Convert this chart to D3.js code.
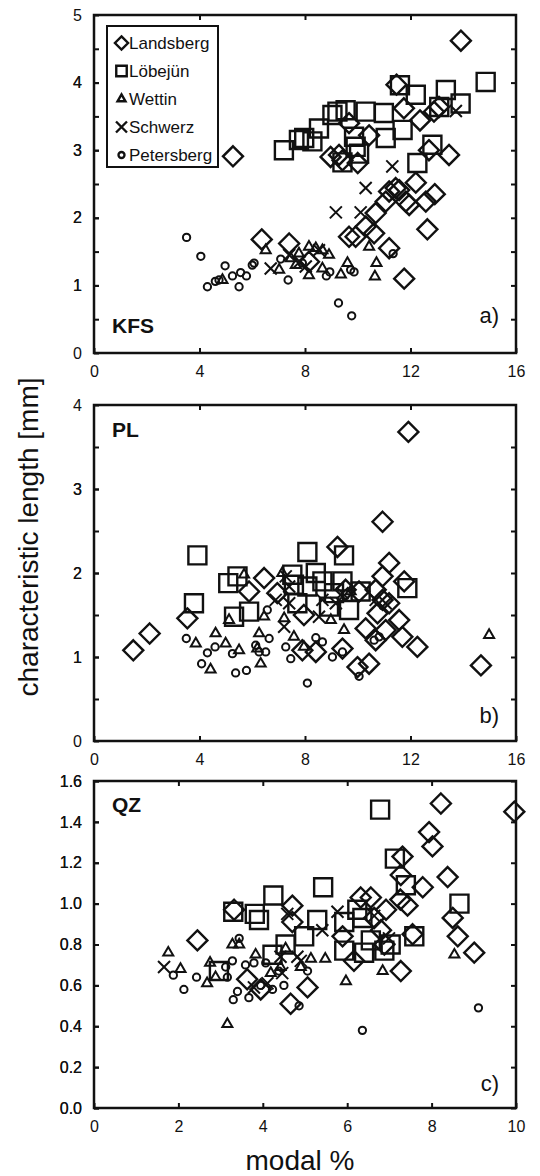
<!DOCTYPE html>
<html>
<head>
<meta charset="utf-8">
<script src="https://cdn.jsdelivr.net/npm/d3@7"></script>
<style>
body { margin: 0; background: #fff; }
svg { display: block; }
</style>
</head>
<body>
<script>
const seriesNames = ["Landsberg", "Löbejün", "Wettin", "Schwerz", "Petersberg"]

// a) KFS  [modal %, characteristic length mm]
const kfsLandsberg = [[5.27,2.91],[13.91,4.62],[11.47,3.97],[11.75,3.62],[12.36,3.44],[12.89,3.57],[13.08,3.64],[10.43,3.22],[9.67,3.40],
  [8.97,2.90],[9.29,2.93],[9.42,2.85],[10.0,2.81],[12.7,3.0],[13.46,2.93],[11.19,2.39],[11.44,2.44],[12.2,2.52],[11.82,2.24],
  [11.06,2.24],[10.68,2.07],[12.58,2.24],[12.92,2.35],[6.36,1.68],[7.40,1.62],[9.67,1.72],[9.92,1.72],[10.62,1.77],[11.19,1.55],
  [11.76,1.10],[12.64,1.83],[8.15,1.35],[10.30,1.87],[11.95,2.19],[11.57,2.41]]
const kfsLobejun = [[7.2,3.0],[7.97,3.18],[8.28,3.13],[8.53,3.32],[9.23,3.57],[9.54,3.59],[10.30,3.57],[10.99,3.55],[11.06,3.18],
  [11.7,3.3],[11.6,3.96],[12.2,3.82],[13.34,3.89],[13.09,3.64],[13.9,3.69],[14.85,4.01],[12.26,2.81],[12.83,3.08],[9.86,3.2],
  [9.92,3.05],[9.42,2.82],[10.05,2.95],[9.04,3.52],[7.77,3.15]]
const kfsWettin = [[4.87,1.08],[6.51,1.52],[7.02,1.23],[7.46,1.40],[7.65,1.30],[7.77,1.47],[8.15,1.57],[8.15,1.15],[8.41,1.55],
  [8.66,1.52],[8.66,1.25],[8.91,1.45],[9.36,1.16],[9.61,1.33],[10.43,1.57],[10.71,1.33],[10.65,1.13]]
const kfsSchwerz = [[6.70,1.25],[7.40,1.45],[8.03,1.28],[8.53,1.52],[7.8,1.35],[9.17,2.08],[10.11,2.08],[10.30,2.44],[11.31,2.76],[13.72,3.58]]
const kfsPetersberg = [[3.51,1.71],[4.05,1.43],[4.30,0.98],[4.6,1.06],[4.74,1.08],[4.97,1.29],[5.25,1.14],[5.50,0.98],[5.56,1.19],
  [5.78,1.14],[6.0,1.30],[6.07,1.33],[7.08,1.39],[7.36,1.08],[7.90,1.33],[8.81,1.14],[8.94,1.20],[9.27,0.74],[9.73,1.23],
  [9.77,0.55],[9.86,1.20],[11.34,1.47]]

// b) PL
const plLandsberg = [[11.92,3.68],[10.94,2.61],[11.19,2.12],[9.23,2.31],[6.45,1.94],[10.94,1.96],[11.76,1.90],[5.88,1.78],[3.54,1.46],
  [2.11,1.28],[1.49,1.08],[14.67,0.90],[12.26,1.12],[11.69,1.24],[11.57,1.44],[10.68,1.80],[10.75,1.52],[10.94,1.68],[11.19,1.64],
  [10.30,1.34],[10.68,1.20],[11.06,1.32],[10.43,0.92],[9.99,0.88],[9.42,1.10],[8.41,1.06],[7.90,1.08],[7.96,1.50],[6.95,1.76],
  [10.05,1.78],[9.54,1.80]]
const plLobejun = [[3.92,2.21],[3.79,1.64],[5.09,1.88],[5.44,1.96],[5.31,1.48],[5.88,1.54],[8.09,2.25],[9.48,2.21],[7.52,1.98],
  [7.58,1.86],[7.71,1.64],[8.41,2.00],[8.66,1.90],[9.10,1.76],[8.91,1.60],[9.67,1.56],[10.11,1.78],[11.88,1.82],[9.42,1.90],[8.09,1.84]]
const plWettin = [[14.98,1.26],[7.14,2.00],[5.69,1.98],[5.12,1.44],[4.61,1.28],[3.86,1.16],[4.99,1.16],[5.50,1.08],[4.42,0.85],
  [6.26,1.28],[6.32,0.92],[6.19,1.10],[6.45,1.48],[7.58,1.24],[7.96,1.12],[7.21,1.46],[8.98,1.44],[9.48,1.32],[9.73,1.78]]
const plSchwerz = [[6.89,1.68],[7.21,1.36],[7.27,1.96],[7.40,1.84],[8.53,1.48],[9.17,1.64],[8.66,1.68],[7.40,1.64],[10.68,1.68],[11.06,1.64],[9.42,1.76]]
const plPetersberg = [[3.50,1.22],[4.30,1.05],[4.59,1.12],[4.08,0.92],[5.37,0.81],[5.78,0.84],[5.25,1.04],[6.13,1.14],[6.26,1.06],
  [6.51,1.06],[6.64,1.22],[6.57,1.56],[7.27,1.12],[7.46,0.98],[8.09,0.69],[8.41,1.23],[8.66,1.18],[9.04,1.00],[9.42,1.06],
  [10.05,0.77],[10.62,1.20],[10.81,1.24]]

// c) QZ
const qzLandsberg = [[8.22,1.49],[9.96,1.45],[7.94,1.35],[8.02,1.28],[7.31,1.23],[8.38,1.13],[7.27,1.14],[7.79,1.08],[7.26,1.02],
  [7.43,0.99],[6.32,1.03],[6.56,1.03],[6.92,0.97],[8.50,0.93],[8.62,0.84],[9.01,0.76],[7.27,0.67],[7.55,0.85],[6.88,0.80],
  [6.16,0.72],[5.89,0.84],[4.70,0.99],[4.70,0.91],[3.32,0.97],[2.45,0.82],[3.63,0.63],[3.95,0.58],[4.66,0.51],[5.06,0.59],
  [6.80,0.87],[6.64,0.93]]
const qzLobejun = [[6.78,1.46],[7.13,1.22],[7.39,1.09],[8.66,1.00],[5.43,1.08],[4.25,1.04],[3.30,0.96],[3.81,0.95],[3.91,0.92],
  [5.29,0.92],[5.93,0.91],[6.24,0.97],[6.36,0.93],[7.59,0.84],[7.03,0.80],[6.88,0.77],[6.40,0.76],[5.93,0.77],[4.98,0.84],
  [4.54,0.80],[4.23,0.75],[2.96,0.67],[6.56,0.82]]
const qzWettin = [[1.76,0.76],[2.05,0.68],[2.75,0.71],[2.68,0.61],[2.88,0.64],[3.28,0.80],[3.44,0.80],[3.16,0.41],[3.83,0.75],
  [4.54,0.78],[4.90,0.69],[5.14,0.73],[5.48,0.73],[5.97,0.62],[6.84,0.67],[8.54,0.75],[4.19,0.66],[4.42,0.69]]
const qzSchwerz = [[1.66,0.69],[4.58,0.95],[4.82,0.74],[4.90,0.72],[4.46,0.66],[3.79,0.59],[4.11,0.61],[5.77,0.96],[5.41,0.87],
  [6.64,0.94],[6.99,0.83],[4.42,0.74]]
const qzPetersberg = [[1.88,0.65],[2.13,0.58],[2.43,0.64],[3.12,0.69],[3.28,0.72],[3.44,0.83],[3.16,0.64],[3.40,0.57],[3.30,0.53],
  [3.67,0.54],[3.59,0.70],[3.79,0.71],[4.07,0.71],[4.23,0.58],[4.50,0.60],[4.38,0.67],[4.86,0.50],[5.06,0.67],[6.36,0.38],
  [9.11,0.49],[3.95,0.60]]

// tick labels
const xTicksAB = [0, 4, 8, 12, 16]
const yTicksA = [0, 1, 2, 3, 4, 5]
const yTicksB = [0, 1, 2, 3, 4]
const xTicksC = [0, 2, 4, 6, 8, 10]
const yTicksC = [0, 0.2, 0.4, 0.6, 0.8, 1.0, 1.2, 1.4, 1.6]

const width = 540
const height = 1176
const left = 94, right = 516
const font = 'Arial, "Liberation Sans", Helvetica, sans-serif'
const ink = '#111'

const symbolTypes = [d3.symbolDiamond2, d3.symbolSquare2, d3.symbolTriangle2, d3.symbolX, d3.symbolCircle]
const symbolSizes = [255, 413, 72, 96, 42]
const legendSizes = [110, 140, 45, 80, 28]

const panels = [
  {name: 'KFS', tag: 'a)', series: [kfsLandsberg, kfsLobejun, kfsWettin, kfsSchwerz, kfsPetersberg],
   xTicks: xTicksAB, yTicks: yTicksA, yMinor: d3.range(0.5, 5, 0.5), yFmt: d3.format('d'),
   top: 15, bottom: 353, nameY: 333, tagY: 323},
  {name: 'PL', tag: 'b)', series: [plLandsberg, plLobejun, plWettin, plSchwerz, plPetersberg],
   xTicks: xTicksAB, yTicks: yTicksB, yMinor: d3.range(0.5, 4, 0.5), yFmt: d3.format('d'),
   top: 405, bottom: 741, nameY: 437, tagY: 723},
  {name: 'QZ', tag: 'c)', series: [qzLandsberg, qzLobejun, qzWettin, qzSchwerz, qzPetersberg],
   xTicks: xTicksC, yTicks: yTicksC, yMinor: yTicksC, yFmt: d3.format('.1f'),
   top: 781, bottom: 1108, nameY: 812, tagY: 1091}
]

let svg = d3.select('body')
            .append('svg')
            .attr('width', width)
            .attr('height', height)
            .style('font-family', font)

function styleAxis(g) {
  g.select('.domain').remove()
  g.selectAll('line').attr('stroke', ink).attr('stroke-width', 2)
  g.selectAll('text').attr('fill', ink).style('font-size', '16px').style('font-family', font)
}

panels.forEach(p => {
  let x = d3.scaleLinear().domain([0, d3.max(p.xTicks)]).range([left, right])
  let y = d3.scaleLinear().domain([0, d3.max(p.yTicks)]).range([p.bottom, p.top])
  let inner = p.xTicks.slice(1, -1)
  let g = svg.append('g')

  g.append('g').attr('transform', `translate(0,${p.bottom})`)
   .call(d3.axisBottom(x).tickValues(p.xTicks).tickSize(-5).tickSizeOuter(0).tickPadding(13).tickFormat(d3.format('d')))
   .call(styleAxis)
  g.append('g').attr('transform', `translate(0,${p.top})`)
   .call(d3.axisTop(x).tickValues(inner).tickSize(-5).tickFormat(''))
   .call(styleAxis)
  // minor ticks on the left carry labels only at the label values
  g.append('g').attr('transform', `translate(${left},0)`)
   .call(d3.axisLeft(y).tickValues(p.yMinor.concat(p.yTicks)).tickSize(-5).tickPadding(12)
     .tickFormat(d => p.yTicks.some(t => Math.abs(t - d) < 1e-9) ? p.yFmt(d) : ''))
   .call(styleAxis)
  g.append('g').attr('transform', `translate(${right},0)`)
   .call(d3.axisRight(y).tickValues(p.yMinor).tickSize(-5).tickFormat(''))
   .call(styleAxis)

  g.append('rect')
   .attr('x', left).attr('y', p.top)
   .attr('width', right - left).attr('height', p.bottom - p.top)
   .attr('fill', 'none').attr('stroke', ink).attr('stroke-width', 2.5)

  p.series.forEach((data, i) => {
    g.append('g').selectAll('path')
     .data(data)
     .enter()
     .append('path')
     .attr('transform', d => `translate(${x(d[0])},${y(d[1])})`)
     .attr('d', d3.symbol(symbolTypes[i], symbolSizes[i]))
     .attr('fill', 'none')
     .attr('stroke', ink)
     .attr('stroke-width', i < 2 ? 2.4 : 2)
  })

  g.append('text')
   .attr('x', 112).attr('y', p.nameY)
   .style('font-size', '21px').style('font-weight', 'bold').attr('fill', ink)
   .text(p.name)
  g.append('text')
   .attr('x', 499).attr('y', p.tagY)
   .attr('text-anchor', 'end')
   .style('font-size', '22px').attr('fill', ink)
   .text(p.tag)
})

// legend in panel a
let legend = svg.append('g')
legend.append('rect')
      .attr('x', 107).attr('y', 26).attr('width', 111).attr('height', 141)
      .attr('fill', '#fff').attr('stroke', ink).attr('stroke-width', 2)
seriesNames.forEach((name, i) => {
  let cy = 43 + i * 28
  legend.append('path')
        .attr('transform', `translate(121.5,${cy})`)
        .attr('d', d3.symbol(symbolTypes[i], legendSizes[i]))
        .attr('fill', 'none').attr('stroke', ink).attr('stroke-width', 2.4)
  legend.append('text')
        .attr('x', 129).attr('y', cy + 6)
        .style('font-size', '17px').attr('fill', ink)
        .text(name)
})

svg.append('text')
   .attr('transform', 'translate(38,537) rotate(-90)')
   .attr('text-anchor', 'middle')
   .style('font-size', '28px').attr('fill', ink)
   .text('characteristic length [mm]')

svg.append('text')
   .attr('x', 300).attr('y', 1170)
   .attr('text-anchor', 'middle')
   .style('font-size', '28px').attr('fill', ink)
   .text('modal %')
</script>
</body>
</html>
